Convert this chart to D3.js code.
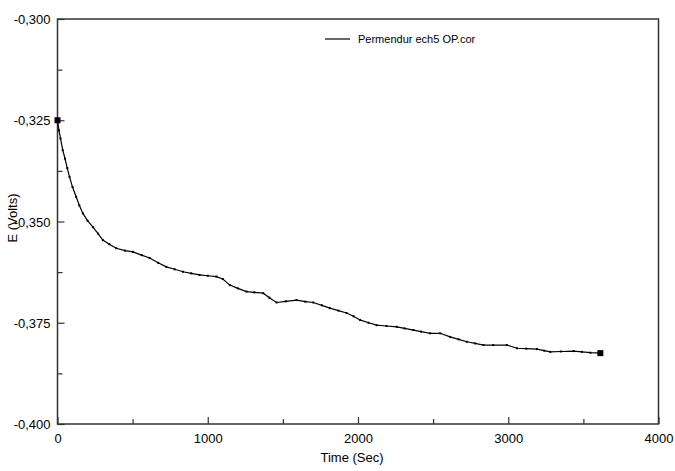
<!DOCTYPE html>
<html>
<head>
<meta charset="utf-8">
<script src="https://cdn.jsdelivr.net/npm/d3@7/dist/d3.min.js"></script>
<style>
  body { margin: 0; background: #fff; }
  text { font-family: "Liberation Sans", Arial, sans-serif; fill: #000; }
</style>
</head>
<body>
<svg id="chart" width="675" height="471"></svg>
<script>
// ---- data ----
const timeSec = [0,10,20,35,50,65,80,100,124,145,169,200,236,270,302,345,391,450,502,560,613,670,724,780,835,890,946,1000,1058,1100,1147,1200,1258,1310,1369,1410,1458,1520,1591,1650,1702,1760,1813,1870,1924,1970,2013,2070,2124,2190,2258,2310,2369,2420,2480,2547,2613,2670,2724,2780,2835,2900,2991,3058,3120,3191,3240,3280,3350,3436,3490,3547,3613];
const potentialMV = [-325,-327.5,-329.5,-332.4,-334.5,-336.8,-339,-341.5,-343.9,-346,-348,-349.8,-351.4,-353,-354.6,-355.6,-356.6,-357.2,-357.5,-358.3,-359,-360.2,-361.2,-361.8,-362.4,-362.8,-363.2,-363.4,-363.6,-364.2,-365.7,-366.5,-367.3,-367.5,-367.7,-368.8,-370,-369.7,-369.4,-369.8,-370,-370.7,-371.4,-372,-372.6,-373.4,-374.3,-375,-375.6,-375.8,-376,-376.4,-376.8,-377.2,-377.6,-377.6,-378.5,-379.1,-379.7,-380.1,-380.5,-380.5,-380.5,-381.3,-381.4,-381.5,-381.9,-382.2,-382.1,-382,-382.2,-382.4,-382.5];
const xTickLabels = [0, 1000, 2000, 3000, 4000];
const yTickLabels = [-0.300, -0.325, -0.350, -0.375, -0.400];
const seriesName = "Permendur ech5 OP.cor";
const xTitle = "Time (Sec)";
const yTitle = "E (Volts)";

const data = timeSec.map((t, i) => ({ t, e: potentialMV[i] / 1000 }));

const svg = d3.select("#chart");
const L = 57.5, R = 658.5, T = 19, B = 424;
const x = d3.scaleLinear().domain([0, 4000]).range([L, R]);
const y = d3.scaleLinear().domain([-0.400, -0.300]).range([B, T]);

// frame
svg.append("rect").attr("x", L).attr("y", T).attr("width", R - L).attr("height", B - T)
  .attr("fill", "none").attr("stroke", "#333").attr("stroke-width", 1.5);

const fmtY = v => d3.format(".3f")(v).replace(".", ",").replace("−", "-");

// bottom axis
const xAxis = d3.axisBottom(x).tickValues(d3.range(0, 4001, 500))
  .tickSizeInner(0).tickSizeOuter(0).tickFormat("");
const gx = svg.append("g").attr("transform", `translate(0,${B})`).call(xAxis);
gx.select(".domain").remove();
gx.selectAll(".tick line").attr("y2", d => d % 1000 === 0 ? -7 : -5)
  .attr("stroke", "#333").attr("stroke-width", 1.2);
gx.selectAll(".tick").filter(d => xTickLabels.includes(d)).append("text")
  .attr("y", 19).attr("text-anchor", "middle").style("font-size", "13px")
  .text(d => d);

// left axis
const yAxis = d3.axisLeft(y).tickValues(d3.range(0, 9).map(i => -0.4 + i * 0.0125))
  .tickSizeInner(0).tickSizeOuter(0).tickFormat("");
const gy = svg.append("g").attr("transform", `translate(${L},0)`).call(yAxis);
gy.select(".domain").remove();
gy.selectAll(".tick line").attr("x2", (d, i) => i % 2 === 0 ? 7 : 5)
  .attr("stroke", "#333").attr("stroke-width", 1.2);
gy.selectAll(".tick").filter((d, i) => i % 2 === 0).append("text")
  .attr("x", -7).attr("dy", "0.35em").attr("text-anchor", "end").style("font-size", "13px")
  .text(d => fmtY(d));

// axis titles
svg.append("text").attr("x", 352).attr("y", 462).attr("text-anchor", "middle")
  .style("font-size", "13px").text(xTitle);
svg.append("text").attr("transform", "translate(17,218) rotate(-90)")
  .attr("text-anchor", "middle").style("font-size", "13px").text(yTitle);

// series
const line = d3.line().x(d => x(d.t)).y(d => y(d.e)).curve(d3.curveLinear);
svg.append("path").datum(data).attr("d", line)
  .attr("fill", "none").attr("stroke", "#000").attr("stroke-width", 1.2);
svg.append("g").selectAll("rect.pt").data(data).join("rect")
  .attr("x", d => x(d.t) - 1).attr("y", d => y(d.e) - 1)
  .attr("width", 2).attr("height", 2).attr("fill", "#000");
[data[0], data[data.length - 1]].forEach(d => {
  svg.append("rect").attr("x", x(d.t) - 3).attr("y", y(d.e) - 3)
    .attr("width", 6).attr("height", 6).attr("fill", "#000");
});

// legend
svg.append("line").attr("x1", 325).attr("x2", 350).attr("y1", 39).attr("y2", 39)
  .attr("stroke", "#000").attr("stroke-width", 1.2);
svg.append("text").attr("x", 358).attr("y", 43).style("font-size", "11px").text(seriesName);
</script>
</body>
</html>
